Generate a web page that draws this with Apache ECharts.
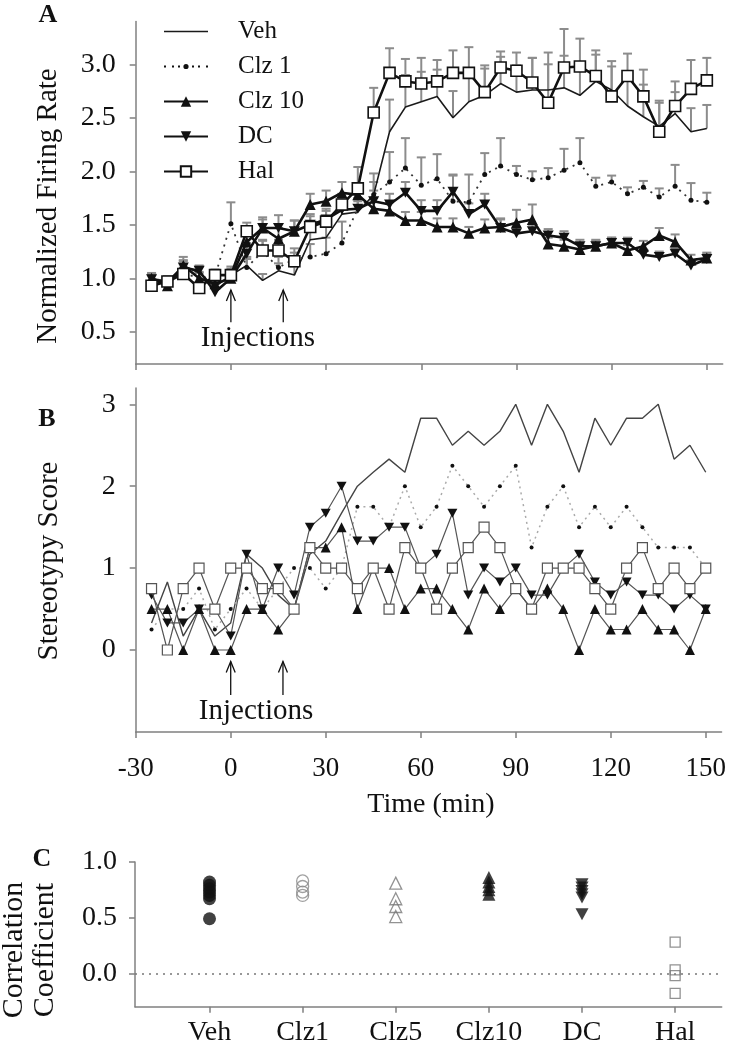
<!DOCTYPE html>
<html><head><meta charset="utf-8">
<script src="https://cdn.jsdelivr.net/npm/echarts@6/dist/echarts.min.js"></script>
<style>html,body{margin:0;padding:0;background:#fff}#c{width:729px;height:1050px}</style>
</head><body><div id="c"></div>
<script>
// ---------- data ----------
const times = [-25,-20,-15,-10,-5,0,5,10,15,20,25,30,35,40,45,50,55,60,65,70,75,80,85,90,95,100,105,110,115,120,125,130,135,140,145,150];

// Panel A: normalized firing rate (mean) and upper error
const rateVeh  = [1.0,0.97,1.12,1.05,0.92,1.03,1.12,0.98,1.07,1.03,1.36,1.38,1.6,1.62,1.78,2.37,2.60,2.65,2.70,2.50,2.65,2.71,2.82,2.74,2.76,2.76,2.78,2.71,2.84,2.76,2.61,2.51,2.42,2.54,2.37,2.40];
const errVeh   = [0.04,0.05,0.08,0.06,0.05,0.08,0.08,0.06,0.07,0.08,0.12,0.12,0.12,0.1,0.12,0.3,0.3,0.28,0.25,0.25,0.3,0.28,0.25,0.25,0.3,0.35,0.3,0.3,0.25,0.22,0.28,0.3,0.22,0.2,0.22,0.22];
const rateClz1 = [1.0,0.97,1.05,1.0,1.02,1.51,1.10,1.25,1.10,1.18,1.20,1.23,1.33,1.65,1.78,1.90,2.03,1.87,1.93,1.72,1.71,1.97,2.05,1.97,1.92,1.94,2.01,2.08,1.86,1.90,1.79,1.85,1.76,1.86,1.73,1.71];
const errClz1  = [0.05,0.05,0.08,0.06,0.06,0.2,0.08,0.1,0.1,0.1,0.12,0.15,0.2,0.2,0.2,0.28,0.28,0.26,0.23,0.25,0.26,0.2,0.26,0.08,0.08,0.09,0.2,0.23,0.08,0.06,0.06,0.06,0.08,0.2,0.16,0.09];
const rateClz10= [1.0,0.93,1.12,1.0,0.95,1.0,1.34,1.47,1.37,1.44,1.69,1.72,1.80,1.78,1.65,1.63,1.54,1.54,1.48,1.48,1.42,1.47,1.48,1.52,1.55,1.32,1.30,1.27,1.30,1.33,1.26,1.30,1.40,1.34,1.17,1.19];
const errClz10 = [0.04,0.04,0.05,0.05,0.05,0.06,0.1,0.08,0.1,0.1,0.1,0.1,0.1,0.1,0.1,0.08,0.08,0.08,0.08,0.08,0.06,0.08,0.08,0.12,0.14,0.06,0.06,0.05,0.05,0.05,0.05,0.05,0.07,0.07,0.05,0.05];
const rateDC   = [0.99,0.96,1.1,1.07,0.87,1.0,1.23,1.47,1.47,1.44,1.5,1.55,1.64,1.65,1.72,1.69,1.80,1.63,1.63,1.81,1.60,1.69,1.47,1.42,1.44,1.40,1.38,1.30,1.30,1.33,1.33,1.22,1.20,1.23,1.12,1.18];
const errDC    = [0.04,0.04,0.06,0.05,0.05,0.06,0.1,0.1,0.12,0.1,0.1,0.1,0.1,0.1,0.1,0.1,0.1,0.1,0.1,0.15,0.1,0.1,0.08,0.06,0.06,0.06,0.06,0.06,0.06,0.05,0.05,0.05,0.05,0.05,0.05,0.05];
const rateHal  = [0.93,0.97,1.04,0.91,1.03,1.03,1.44,1.26,1.26,1.16,1.48,1.53,1.69,1.84,2.55,2.92,2.84,2.82,2.84,2.92,2.92,2.74,2.97,2.94,2.83,2.64,2.97,2.98,2.89,2.70,2.89,2.70,2.37,2.61,2.77,2.85];
const errHal   = [0.04,0.04,0.06,0.05,0.05,0.06,0.08,0.1,0.1,0.08,0.1,0.1,0.1,0.2,0.23,0.23,0.21,0.24,0.2,0.21,0.24,0.22,0.15,0.17,0.23,0.36,0.36,0.26,0.24,0.33,0.21,0.25,0.29,0.23,0.27,0.21];

// Panel B: stereotypy score
const stVeh  = [0.33,0.83,0.17,0.5,0.17,0.33,1.17,1.0,0.67,0.5,1.17,1.33,1.67,2.0,2.17,2.33,2.17,2.83,2.83,2.5,2.67,2.5,2.67,3.0,2.5,3.0,2.67,2.17,2.83,2.5,2.83,2.83,3.0,2.33,2.5,2.17];
const stClz1 = [0.25,0.5,0.5,0.75,0.25,0.5,0.75,0.5,0.75,1.0,1.0,0.75,1.0,1.75,1.75,1.5,2.0,1.5,1.75,2.25,2.0,1.75,2.0,2.25,1.25,1.75,2.0,1.5,1.75,1.5,1.75,1.5,1.25,1.25,1.25,1.0];
const stClz10= [0.5,0.5,0.0,0.5,0.0,0.0,0.5,0.5,0.25,0.5,1.25,1.25,1.5,0.5,1.0,1.0,0.5,0.75,0.75,0.5,0.25,0.75,0.5,0.75,0.5,0.75,0.5,0.0,0.5,0.25,0.25,0.5,0.25,0.25,0.0,0.5];
const stDC   = [0.67,0.33,0.33,0.5,0.5,0.17,1.17,0.5,1.0,0.67,1.5,1.67,2.0,1.33,1.33,1.5,1.5,1.0,1.17,1.67,0.67,1.0,0.83,1.0,0.67,0.67,1.0,1.17,0.83,0.67,0.83,0.67,0.67,0.5,0.67,0.5];
const stHal  = [0.75,0.0,0.75,1.0,0.5,1.0,1.0,0.75,0.75,0.5,1.25,1.0,1.0,0.75,1.0,0.5,1.25,1.0,0.5,1.0,1.25,1.5,1.25,0.75,0.5,1.0,1.0,1.0,0.75,0.5,1.0,1.25,0.75,1.0,0.75,1.0];

// Panel C: correlation coefficients per group
const corrGroups = ['Veh','Clz1','Clz5','Clz10','DC','Hal'];
const corrVeh   = [0.82,0.79,0.76,0.73,0.70,0.67,0.49];
const corrClz1  = [0.83,0.78,0.73,0.70];
const corrClz5  = [0.81,0.67,0.60,0.51];
const corrClz10 = [0.86,0.82,0.78,0.75,0.71];
const corrDC    = [0.80,0.77,0.74,0.71,0.68,0.53];
const corrHal   = [0.28,0.03,-0.02,-0.18];

// ticks and annotations
const timeTicks = [-30,0,30,60,90,120,150];
const rateTicks = [0.5,1.0,1.5,2.0,2.5,3.0];
const scoreTicks = [0,1,2,3];
const corrTicks = [0,0.5,1.0];
const injectionTimes = [0,16.5];

// ---------- chart ----------
const FF = 'Liberation Serif';
const AX = '#808080';
const TXT = '#111';
const downTri = 'path://M0,0L2,0L1,1.75Z';
const vehIcon = 'path://M0,0L44,0L44,1.6L0,1.6Z';
const clz1Icon = 'path://M0,1.6L2,1.6L2,3.4L0,3.4Z M8,1.6L10,1.6L10,3.4L8,3.4Z M14,1.6L16,1.6L16,3.4L14,3.4Z ' +
  'M19.4,2.5A2.6,2.6 0 1 1 24.6,2.5A2.6,2.6 0 1 1 19.4,2.5Z ' +
  'M28,1.6L30,1.6L30,3.4L28,3.4Z M34,1.6L36,1.6L36,3.4L34,3.4Z M42,1.6L44,1.6L44,3.4L42,3.4Z';

function zip(xs, ys){ return xs.map((x,i)=>[x, ys[i]]); }
function errData(vals, errs){ return times.map((t,i)=>[t, vals[i], errs[i]]); }

function errSeries(vals, errs){
  return {
    type:'custom', xAxisIndex:0, yAxisIndex:0, z:1, silent:true,
    data: errData(vals, errs),
    renderItem(params, api){
      const p = api.coord([api.value(0), api.value(1)]);
      const q = api.coord([api.value(0), api.value(1)+api.value(2)]);
      return {type:'group', children:[
        {type:'line', shape:{x1:p[0],y1:p[1],x2:q[0],y2:q[1]}, style:{stroke:'#8c8c8c', lineWidth:2}},
        {type:'line', shape:{x1:q[0]-4.5,y1:q[1],x2:q[0]+4.5,y2:q[1]}, style:{stroke:'#8c8c8c', lineWidth:2}}
      ]};
    }
  };
}

function arrowSeries(xi, yi, vTip, vTail, vText, tText){
  return [{
    type:'custom', xAxisIndex:xi, yAxisIndex:yi, z:5, silent:true,
    data: injectionTimes.map(t=>[t, vTip, vTail]),
    renderItem(params, api){
      const tip = api.coord([api.value(0), api.value(1)]);
      const tail = api.coord([api.value(0), api.value(2)]);
      return {type:'group', children:[
        {type:'line', shape:{x1:tail[0],y1:tail[1],x2:tip[0],y2:tip[1]}, style:{stroke:'#111', lineWidth:1.3}},
        {type:'polyline', shape:{points:[[tip[0]-4.5,tip[1]+11],[tip[0],tip[1]],[tip[0]+4.5,tip[1]+11]]}, style:{stroke:'#111', fill:null, lineWidth:1.3}}
      ]};
    }
  },{
    type:'custom', xAxisIndex:xi, yAxisIndex:yi, z:5, silent:true,
    data: [[tText, vText]],
    renderItem(params, api){
      const p = api.coord([api.value(0), api.value(1)]);
      return {type:'text', x:p[0], y:p[1], style:{text:'Injections', fill:TXT, font:'29px "Liberation Serif"', align:'center', verticalAlign:'middle'}};
    }
  }];
}

function axisCommon(){
  return {
    axisLine:{onZero:false, lineStyle:{color:AX, width:1.5}},
    axisTick:{length:6, lineStyle:{color:AX, width:1.5}},
    splitLine:{show:false}
  };
}

const xA = Object.assign(axisCommon(), {type:'value', gridIndex:0, min:-30, max:155});
xA.axisTick.customValues = timeTicks;
xA.axisLabel = {show:false};
const xB = Object.assign(axisCommon(), {type:'value', gridIndex:1, min:-30, max:155});
xB.axisTick.customValues = timeTicks;
xB.axisLabel = {customValues:timeTicks, fontFamily:FF, fontSize:27, color:TXT, margin:24};
const xC = Object.assign(axisCommon(), {type:'value', gridIndex:2, min:0.2, max:6.5});
xC.axisTick.customValues = [1,2,3,4,5,6];
xC.axisLabel = {customValues:[1,2,3,4,5,6], formatter:v=>corrGroups[Math.round(v)-1], fontFamily:FF, fontSize:28, color:TXT, margin:12};

const yA = Object.assign(axisCommon(), {type:'value', gridIndex:0, min:0.2, max:3.4});
yA.axisTick.customValues = rateTicks;
yA.axisLabel = {customValues:rateTicks, formatter:v=>v.toFixed(1), fontFamily:FF, fontSize:28, color:TXT, margin:20};
const yB = Object.assign(axisCommon(), {type:'value', gridIndex:1, min:-1, max:3.2});
yB.axisTick.customValues = scoreTicks;
yB.axisLabel = {customValues:scoreTicks, fontFamily:FF, fontSize:28, color:TXT, margin:20};
const yC = Object.assign(axisCommon(), {type:'value', gridIndex:2, min:-0.3, max:1.0});
yC.axisTick.customValues = corrTicks;
yC.axisLabel = {customValues:corrTicks, formatter:v=>v.toFixed(1), fontFamily:FF, fontSize:28, color:TXT, margin:18};

const lineA = (name, data, opt) => Object.assign({type:'line', name, xAxisIndex:0, yAxisIndex:0, data:zip(times,data), z:3, silent:true}, opt);
const lineB = (name, data, opt) => Object.assign({type:'line', name, xAxisIndex:1, yAxisIndex:1, data:zip(times,data), z:3, silent:true}, opt);
const scatC = (idx, vals, opt) => Object.assign({type:'scatter', name:'corr '+corrGroups[idx], xAxisIndex:2, yAxisIndex:2, data:vals.map(v=>[idx+1, v]), z:3, silent:true}, opt);

const series = [
  errSeries(rateVeh, errVeh), errSeries(rateClz1, errClz1), errSeries(rateClz10, errClz10), errSeries(rateDC, errDC), errSeries(rateHal, errHal),
  lineA('Veh', rateVeh, {symbol:'none', itemStyle:{color:'#1a1a1a'}, lineStyle:{color:'#1a1a1a', width:1.6}}),
  lineA('Clz 1', rateClz1, {symbol:'circle', symbolSize:5, itemStyle:{color:'#111'}, lineStyle:{color:'#333', width:1.8, type:[2,5]}}),
  lineA('Clz 10', rateClz10, {symbol:'triangle', symbolSize:11, itemStyle:{color:'#111'}, lineStyle:{color:'#111', width:2.6}}),
  lineA('DC', rateDC, {symbol:downTri, symbolSize:[11,10], itemStyle:{color:'#111'}, lineStyle:{color:'#111', width:2.6}}),
  lineA('Hal', rateHal, {symbol:'rect', symbolSize:11, itemStyle:{color:'#fff', borderColor:'#111', borderWidth:1.6}, lineStyle:{color:'#111', width:2.6}, z:4}),

  lineB('Veh (B)', stVeh, {symbol:'none', lineStyle:{color:'#444', width:1.4}}),
  lineB('Clz 1 (B)', stClz1, {symbol:'circle', symbolSize:4, itemStyle:{color:'#111'}, lineStyle:{color:'#aaa', width:1.5, type:[2,4]}}),
  lineB('Clz 10 (B)', stClz10, {symbol:'triangle', symbolSize:10, itemStyle:{color:'#111'}, lineStyle:{color:'#555', width:1.2}}),
  lineB('DC (B)', stDC, {symbol:downTri, symbolSize:[10,9], itemStyle:{color:'#111'}, lineStyle:{color:'#555', width:1.2}}),
  lineB('Hal (B)', stHal, {symbol:'rect', symbolSize:10, itemStyle:{color:'#fff', borderColor:'#555', borderWidth:1.2}, lineStyle:{color:'#555', width:1.2}, z:4}),

  scatC(0, corrVeh, {symbol:'circle', symbolSize:13, itemStyle:{color:'#111'},
    markLine:{silent:true, symbol:'none', label:{show:false}, lineStyle:{color:'#777', type:[2,5], width:1.5}, data:[{yAxis:0}]}}),
  scatC(1, corrClz1, {symbol:'circle', symbolSize:12, itemStyle:{color:'rgba(0,0,0,0)', borderColor:'#888', borderWidth:1.3}}),
  scatC(2, corrClz5, {symbol:'triangle', symbolSize:12, itemStyle:{color:'rgba(0,0,0,0)', borderColor:'#777', borderWidth:1.3}}),
  scatC(3, corrClz10, {symbol:'triangle', symbolSize:13, itemStyle:{color:'#111'}}),
  scatC(4, corrDC, {symbol:downTri, symbolSize:[13,12], itemStyle:{color:'#111'}}),
  scatC(5, corrHal, {symbol:'rect', symbolSize:10, itemStyle:{color:'rgba(0,0,0,0)', borderColor:'#777', borderWidth:1.3}})
].concat(arrowSeries(0,0,0.89,0.59,0.44,8.5), arrowSeries(1,1,-0.14,-0.55,-0.75,8));

const option = {
  animation:false,
  backgroundColor:'#fff',
  grid:[
    {left:135.7, top:21.5, width:587, height:342.4},
    {left:135.7, top:387.9, width:587, height:344},
    {left:135, top:862, width:586.7, height:144.7}
  ],
  xAxis:[xA, xB, xC],
  yAxis:[yA, yB, yC],
  legend:{
    data:[
      {name:'Veh', icon:vehIcon, itemStyle:{color:'#1a1a1a'}},
      {name:'Clz 1', icon:clz1Icon, itemStyle:{color:'#111'}},
      'Clz 10','DC','Hal'
    ],
    orient:'vertical', left:158, top:14, itemWidth:44, itemHeight:13, itemGap:10,
    selectedMode:false,
    textStyle:{fontFamily:FF, fontSize:25, color:TXT, lineHeight:25, padding:[0,0,0,25]}
  },
  graphic:[
    {type:'text', x:48, y:15, style:{text:'A', fill:TXT, font:'bold 26px "Liberation Serif"', align:'center', verticalAlign:'middle'}},
    {type:'text', x:47, y:419, style:{text:'B', fill:TXT, font:'bold 26px "Liberation Serif"', align:'center', verticalAlign:'middle'}},
    {type:'text', x:42, y:859, style:{text:'C', fill:TXT, font:'bold 26px "Liberation Serif"', align:'center', verticalAlign:'middle'}},
    {type:'text', x:48, y:206, rotation:Math.PI/2, style:{text:'Normalized Firing Rate', fill:TXT, font:'29px "Liberation Serif"', align:'center', verticalAlign:'middle'}},
    {type:'text', x:49, y:561, rotation:Math.PI/2, style:{text:'Stereotypy Score', fill:TXT, font:'29px "Liberation Serif"', align:'center', verticalAlign:'middle'}},
    {type:'text', x:431, y:805, style:{text:'Time (min)', fill:TXT, font:'28px "Liberation Serif"', align:'center', verticalAlign:'middle'}},
    {type:'text', x:30, y:950, rotation:Math.PI/2, style:{text:'Correlation\nCoefficient', fill:TXT, font:'30px "Liberation Serif"', lineHeight:31, align:'center', verticalAlign:'middle'}}
  ],
  series
};

const chart = echarts.init(document.getElementById('c'), null, {renderer:'canvas'});
chart.setOption(option);
</script></body></html>
